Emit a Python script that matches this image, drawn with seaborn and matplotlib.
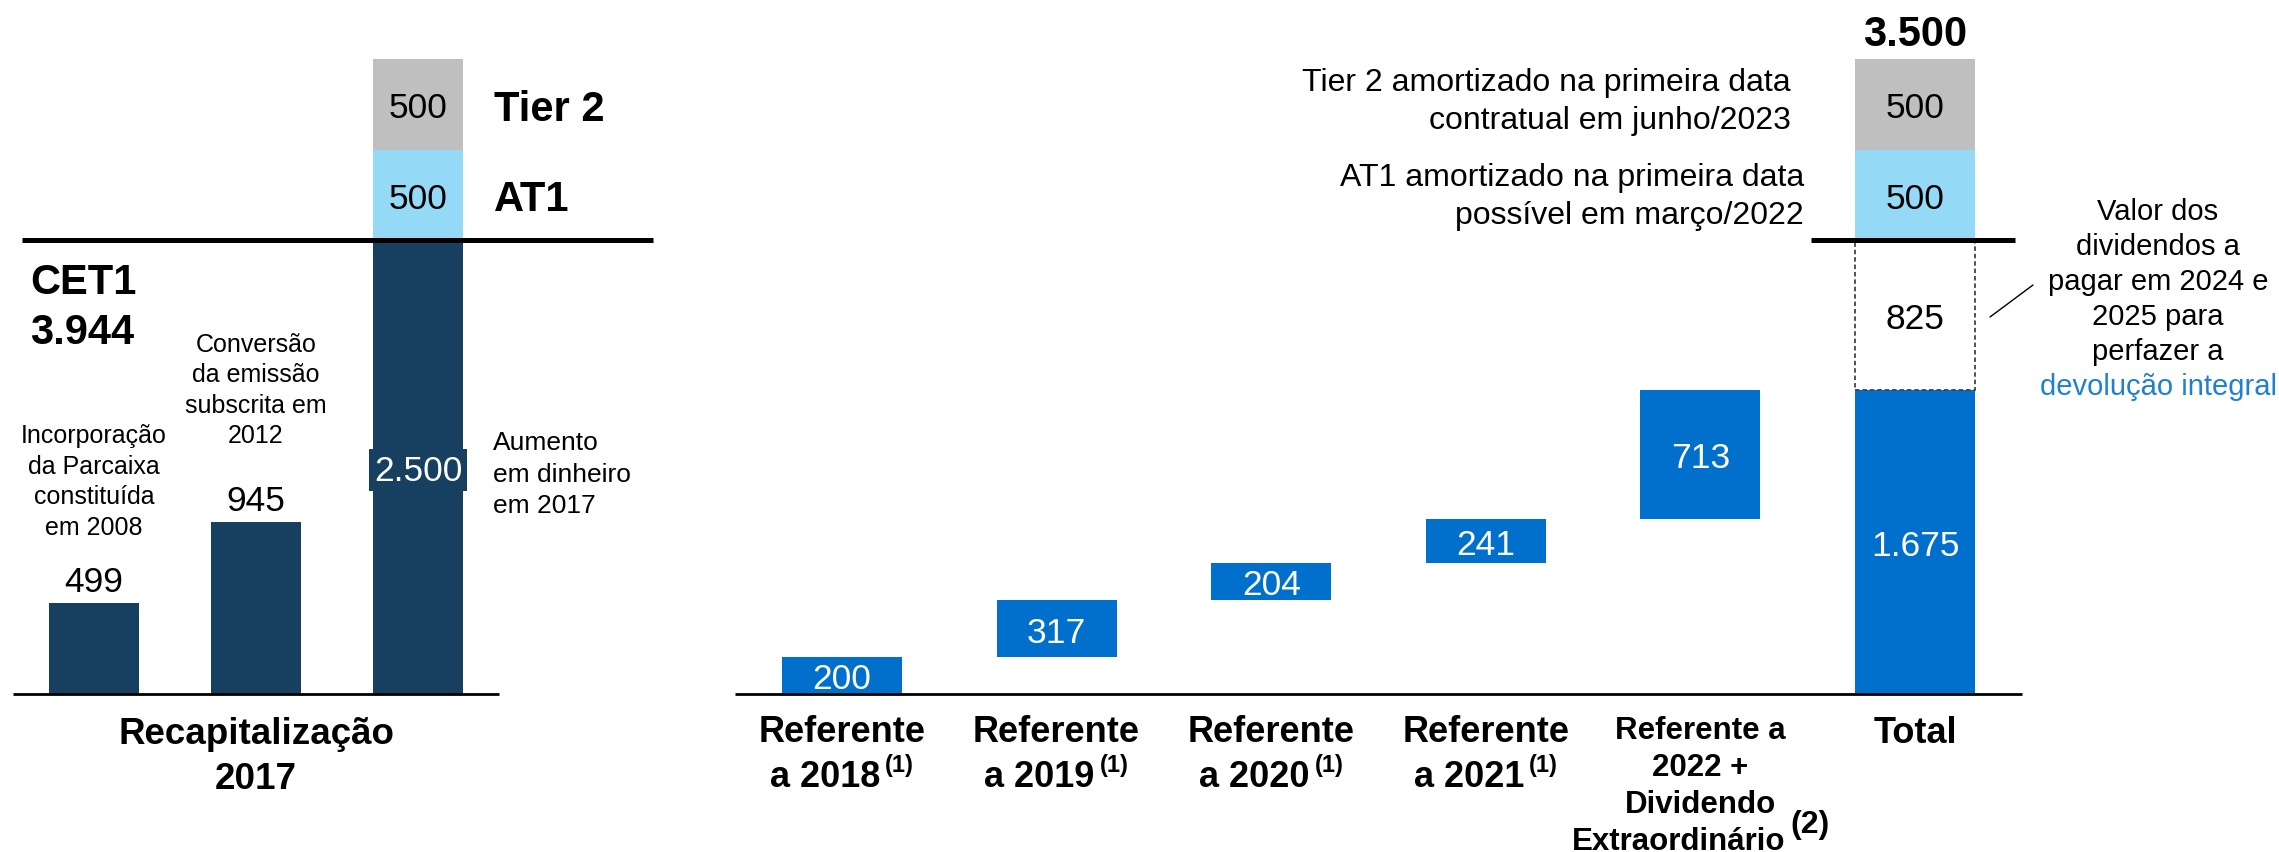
import numpy as np
import pandas as pd
import seaborn as sns
import matplotlib
matplotlib.use("Agg")
import matplotlib.pyplot as plt

# ---------------- data ----------------
recap_keys = ["parcaixa", "conversao", "aumento"]
recap_cet1 = [499, 945, 2500]
recap_cet1_labels = ["499", "945", "2.500"]
recap_at1 = 500
recap_tier2 = 500
recap_at1_label = "500"
recap_tier2_label = "500"
cet1_total_label = "3.944"
recap_notes = [["Incorporação", "da Parcaixa", "constituída", "em 2008"],
               ["Conversão", "da emissão", "subscrita em", "2012"],
               ["Aumento", "em dinheiro", "em 2017"]]
recap_xlabel = ["Recapitalização", "2017"]

div_keys = ["2018", "2019", "2020", "2021", "2022", "Total"]
div_values = [200, 317, 204, 241, 713]
div_value_labels = ["200", "317", "204", "241", "713"]
div_cat_lines = [["Referente", "a 2018"], ["Referente", "a 2019"],
                 ["Referente", "a 2020"], ["Referente", "a 2021"],
                 ["Referente a", "2022 +", "Dividendo", "Extraordinário"],
                 ["Total"]]
div_cat_notes = ["(1)", "(1)", "(1)", "(1)", "(2)", ""]
total_paid_label = "1.675"
to_pay = 825
to_pay_label = "825"
total_at1 = 500
total_tier2 = 500
total_at1_label = "500"
total_tier2_label = "500"
grand_total_label = "3.500"
tier2_note = ["Tier 2 amortizado na primeira data", "contratual em junho/2023"]
at1_note = ["AT1 amortizado na primeira data", "possível em março/2022"]
dividend_note = ["Valor dos", "dividendos a", "pagar em 2024 e", "2025 para", "perfazer a"]
dividend_note_blue = "devolução integral"

# ---------------- style ----------------
NAVY = "#173F5F"
BLUE = "#0070CC"
LIGHT = "#94D9F6"
GRAY = "#BFBFBF"
TXTBLUE = "#1F80D2"

sns.set_style("white")
plt.rcParams["font.family"] = ["Liberation Sans", "DejaVu Sans"]
plt.rcParams["text.color"] = "black"

W, H = 2279, 853
BASE = 694.5        # pixel row of the zero line
PPU = 0.1813        # pixels per unit
L0, LSTEP = 94.0, 162.0
R0, RSTEP = 842.0, 214.6


def yd(py):
    return (BASE - py) / PPU


def xl(px):
    return (px - L0) / LSTEP


def xr(px):
    return (px - R0) / RSTEP


fig = plt.figure(figsize=(W / 100, H / 100), dpi=100)
axL = fig.add_axes([0, 0, 1, 1], label="left")
axR = fig.add_axes([0, 0, 1, 1], label="right")
for ax in (axL, axR):
    ax.set_facecolor("none")

bar_kw = dict(saturation=1, errorbar=None)
WL = 90 / LSTEP
WR = 120 / RSTEP

# ---------------- left panel ----------------
sns.barplot(x=recap_keys, y=recap_cet1, order=recap_keys, color=NAVY, width=WL,
            ax=axL, linewidth=0, zorder=2, **bar_kw)
sns.barplot(x=[recap_keys[2]], y=[recap_at1], order=recap_keys, bottom=recap_cet1[2],
            color=LIGHT, width=WL, ax=axL, linewidth=0, zorder=2, **bar_kw)
sns.barplot(x=[recap_keys[2]], y=[recap_tier2], order=recap_keys,
            bottom=recap_cet1[2] + recap_at1,
            color=GRAY, width=WL, ax=axL, linewidth=0, zorder=2, **bar_kw)

axL.plot([-0.5, 2.5], [0, 0], color="black", lw=2.0, zorder=4, solid_capstyle="butt")
axL.plot([xl(22), xl(653)], [recap_cet1[2]] * 2, color="black", lw=3.6, zorder=5,
         solid_capstyle="butt")

VAL = 25.5
for i in range(2):
    axL.annotate(recap_cet1_labels[i], xy=(i, recap_cet1[i]), xytext=(0, 9),
                 textcoords="offset points", ha="center", va="baseline", fontsize=VAL)
axL.text(2, recap_cet1[2] / 2, recap_cet1_labels[2], ha="center", va="center_baseline",
         fontsize=VAL, color="white", zorder=6,
         bbox=dict(boxstyle="square,pad=0.13", fc=NAVY, ec="none"))
axL.text(2, recap_cet1[2] + recap_at1 / 2, recap_at1_label, ha="center",
         va="center_baseline", fontsize=VAL, zorder=6)
axL.text(2, recap_cet1[2] + recap_at1 + recap_tier2 / 2, recap_tier2_label, ha="center",
         va="center_baseline", fontsize=VAL, zorder=6)
axL.text(xl(494), recap_cet1[2] + recap_at1 + recap_tier2 / 2, "Tier 2", ha="left",
         va="center_baseline", fontsize=30, fontweight="bold")
axL.text(xl(494), recap_cet1[2] + recap_at1 / 2, "AT1", ha="left",
         va="center_baseline", fontsize=30, fontweight="bold")
axL.text(xl(30), yd(294), "CET1", ha="left", va="baseline", fontsize=30, fontweight="bold")
axL.text(xl(30), yd(344), cet1_total_label, ha="left", va="baseline", fontsize=30,
         fontweight="bold")


def text_lines(ax, x, first, pitch, lines, **kw):
    for k, line in enumerate(lines):
        ax.text(x, yd(first + k * pitch), line, va="baseline", **kw)


text_lines(axL, 0, 443.5, 30.5, recap_notes[0], ha="center", fontsize=18)
text_lines(axL, 1, 352.0, 30.5, recap_notes[1], ha="center", fontsize=18)
text_lines(axL, xl(493), 450.5, 31.5, recap_notes[2], ha="left", fontsize=19)
text_lines(axL, 1, 744, 45, recap_xlabel, ha="center", fontsize=26.5, fontweight="bold")

# ---------------- right panel ----------------
bottoms = np.concatenate([[0], np.cumsum(div_values)[:-1]])
total_paid = int(np.sum(div_values))
sns.barplot(x=div_keys[:5], y=div_values, order=div_keys, bottom=bottoms, color=BLUE,
            width=WR, ax=axR, linewidth=0, zorder=2, **bar_kw)
sns.barplot(x=["Total"], y=[total_paid], order=div_keys, color=BLUE, width=WR, ax=axR,
            linewidth=0, zorder=2, **bar_kw)
sns.barplot(x=["Total"], y=[to_pay], order=div_keys, bottom=total_paid, color="white",
            edgecolor="#444444", linestyle=(0, (2.5, 1.6)), linewidth=1.3, width=WR,
            ax=axR, zorder=3, **bar_kw)
sns.barplot(x=["Total"], y=[total_at1], order=div_keys, bottom=total_paid + to_pay,
            color=LIGHT, width=WR, ax=axR, linewidth=0, zorder=2, **bar_kw)
sns.barplot(x=["Total"], y=[total_tier2], order=div_keys,
            bottom=total_paid + to_pay + total_at1,
            color=GRAY, width=WR, ax=axR, linewidth=0, zorder=2, **bar_kw)

axR.plot([-0.5, 5.5], [0, 0], color="black", lw=2.0, zorder=4, solid_capstyle="butt")
axR.plot([xr(1811), xr(2015)], [total_paid + to_pay] * 2, color="black", lw=3.6,
         zorder=5, solid_capstyle="butt")

for i, (b, v, lab) in enumerate(zip(bottoms, div_values, div_value_labels)):
    axR.text(i, b + v / 2, lab, ha="center", va="center_baseline", fontsize=VAL,
             color="white", zorder=6)
axR.text(5, total_paid / 2, total_paid_label, ha="center", va="center_baseline",
         fontsize=VAL, color="white", zorder=6)
axR.text(5, total_paid + to_pay / 2, to_pay_label, ha="center", va="center_baseline",
         fontsize=VAL, zorder=6)
axR.text(5, total_paid + to_pay + total_at1 / 2, total_at1_label, ha="center",
         va="center_baseline", fontsize=VAL, zorder=6)
axR.text(5, total_paid + to_pay + total_at1 + total_tier2 / 2, total_tier2_label,
         ha="center", va="center_baseline", fontsize=VAL, zorder=6)
axR.annotate(grand_total_label, xy=(5, total_paid + to_pay + total_at1 + total_tier2),
             xytext=(0, 10), textcoords="offset points", ha="center", va="baseline",
             fontsize=30, fontweight="bold")

# category labels
CAT = 26
SUP1 = 17
GAP1 = 3.6
for i in range(4):
    lines = div_cat_lines[i]
    axR.text(i, yd(742), lines[0], ha="center", va="baseline", fontsize=CAT,
             fontweight="bold")
    shift = (1.222 * SUP1 + GAP1) / 2
    main = axR.annotate(lines[1], xy=(i, yd(787)), xytext=(-shift, 0),
                        textcoords="offset points", ha="center", va="baseline",
                        fontsize=CAT, fontweight="bold")
    axR.annotate(div_cat_notes[i], xy=(1, 1), xycoords=main, xytext=(GAP1, 4),
                 textcoords="offset points", ha="left", va="top", fontsize=SUP1,
                 fontweight="bold")

CAT5 = 22.5
SUP2 = 23
GAP2 = 3.6
lines5 = div_cat_lines[4]
for k, line in enumerate(lines5[:-1]):
    axR.text(4, yd(739 + k * 37), line, ha="center", va="baseline", fontsize=CAT5,
             fontweight="bold")
shift5 = (1.222 * SUP2 + GAP2) / 2
last = axR.annotate(lines5[-1], xy=(4, yd(739 + (len(lines5) - 1) * 37)),
                    xytext=(-shift5, 0), textcoords="offset points", ha="center",
                    va="baseline", fontsize=CAT5, fontweight="bold")
axR.annotate(div_cat_notes[4], xy=(1, 1), xycoords=last, xytext=(GAP2, 12),
             textcoords="offset points", ha="left", va="top", fontsize=SUP2,
             fontweight="bold")
axR.text(5, yd(743), div_cat_lines[5][0], ha="center", va="baseline", fontsize=CAT,
         fontweight="bold")

# notes
text_lines(axR, xr(1791), 91.4, 38.1, tier2_note, ha="right", fontsize=23)
text_lines(axR, xr(1804), 186, 38.1, at1_note, ha="right", fontsize=23)
text_lines(axR, xr(2158), 220, 35.1, dividend_note, ha="center", fontsize=21)
axR.text(xr(2158), yd(220 + 5 * 35.1), dividend_note_blue, ha="center", va="baseline",
         fontsize=21, color=TXTBLUE)
axR.plot([xr(1990), xr(2033)], [yd(318), yd(286)], color="black", lw=1.0)

# ---------------- axes ----------------
axL.set_xlim(-L0 / LSTEP, (W - L0) / LSTEP)
axR.set_xlim(-R0 / RSTEP, (W - R0) / RSTEP)
for ax in (axL, axR):
    ax.set_ylim(yd(H), yd(0))
    ax.axis("off")

fig.savefig("out.png", dpi=100, facecolor="white")
